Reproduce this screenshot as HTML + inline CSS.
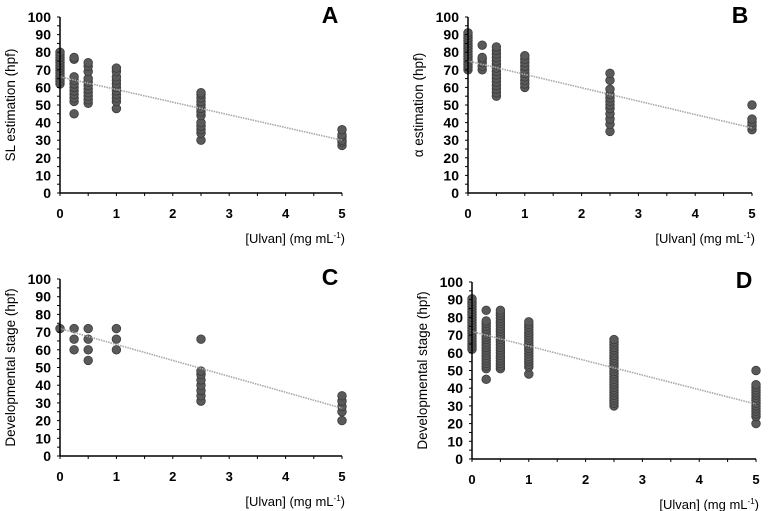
<!DOCTYPE html>
<html><head><meta charset="utf-8"><style>
html,body{margin:0;padding:0;background:#fff;}
svg{display:block;font-family:"Liberation Sans",sans-serif;}
</style></head><body>
<svg id="s" width="770" height="511" xmlns="http://www.w3.org/2000/svg"></svg>
<script>
const s=document.getElementById('s');
const NS='http://www.w3.org/2000/svg';
function el(t,a,txt){const e=document.createElementNS(NS,t);for(const k in a)e.setAttribute(k,a[k]);if(txt!==undefined)e.innerHTML=txt;s.appendChild(e);return e;}
function range(a,b,st){const r=[];for(let v=a;v<=b+1e-9;v+=st)r.push(v);return r;}
const panels=[
{ax:60,y100:17,y0:193,x5:342,L:'A',yl:'SL estimation (hpf)',line:[66,30],
 pts:{0:range(62,80,1.5),0.25:[45,52,54,56,58,60,62,64,66,76,77],0.5:[51,53,55,57,59,61,63,65,69,72,74],1:[48,52,54,56,58,60,62,64,66,69,71],2.5:[30,34,36,38,40,44,46,48,50,52,54,56,57],5:[27,29,30,32,33,36]}},
{ax:468,y100:17,y0:193,x5:752,L:'B',yl:'\u03b1 estimation (hpf)',line:[75,37],
 pts:{0:range(70,91,1.5),0.25:[70,72,74,76,77,84],0.5:range(55,84,2),1:range(60,78,2),2.5:[35,39,42,45,48,50,52,54,56,59,64,68],5:[36,38,40,42,50]}},
{ax:60,y100:279,y0:456,x5:342,L:'C',yl:'Developmental stage (hpf)',line:[72,27],
 pts:{0:[72],0.25:[60,66,72],0.5:[54,60,66,72],1:[60,66,72],2.5:[31,34,37,40,43,46,48,66],5:[20,25,28,31,34]}},
{ax:472,y100:282,y0:459,x5:756,L:'D',yl:'Developmental stage (hpf)',line:[72,31],
 pts:{0:range(62,91,1.5),0.25:[45].concat(range(51,78,1.5)).concat([84]),0.5:range(51,84,1.5),1:[48].concat(range(52,78,1.5)),2.5:range(30,68,1.5),5:[20].concat(range(24,42,1.5)).concat([50])}}
];
panels.forEach(p=>{
 const Y=v=>p.y0-(p.y0-p.y100)*v/100, X=v=>p.ax+(p.x5-p.ax)*v/5;
 for(const k in p.pts){p.pts[k].forEach(v=>el('circle',{cx:X(+k),cy:Y(v),r:4.3,fill:'#5a5a5a',stroke:'#3c3c3c','stroke-width':0.8}));}
 el('line',{x1:X(0),y1:Y(p.line[0]),x2:X(5),y2:Y(p.line[1]),stroke:'#a8a8a8','stroke-width':1.6,'stroke-dasharray':'1.5,1'});
 el('line',{x1:p.ax,y1:p.y100,x2:p.ax,y2:p.y0,stroke:'#000','stroke-width':1.5});
 el('line',{x1:p.ax,y1:p.y0,x2:p.x5,y2:p.y0,stroke:'#000','stroke-width':1.5});
 for(let v=0;v<=100;v+=5){el('line',{x1:p.ax-3,y1:Y(v),x2:p.ax,y2:Y(v),stroke:'#000','stroke-width':1});
  if(v%10==0)el('text',{x:p.ax-9,y:Y(v)+5,'text-anchor':'end','font-size':14,'font-weight':'bold'},v);}
 for(let v=0;v<=5;v+=0.5){el('line',{x1:X(v),y1:p.y0,x2:X(v),y2:p.y0+3,stroke:'#000','stroke-width':1});}
 [0,1,2,3,4,5].forEach(v=>el('text',{x:X(v),y:p.y0+25,'text-anchor':'middle','font-size':13,'font-weight':'bold'},v));
 el('text',{x:p.x5+3,y:p.y0+50,'text-anchor':'end','font-size':13},'[Ulvan] (mg mL<tspan dy="-5" font-size="8">-1</tspan><tspan dy="5">)</tspan>');
 el('text',{x:p.x5-12,y:p.y100+6,'text-anchor':'middle','font-size':23,'font-weight':'bold'},p.L);
 const cy=(p.y100+p.y0)/2, lx=p.ax-45;
 el('text',{x:lx,y:cy,'text-anchor':'middle','font-size':13.5,transform:`rotate(-90 ${lx} ${cy})`},p.yl);
});
</script>
</body></html>
